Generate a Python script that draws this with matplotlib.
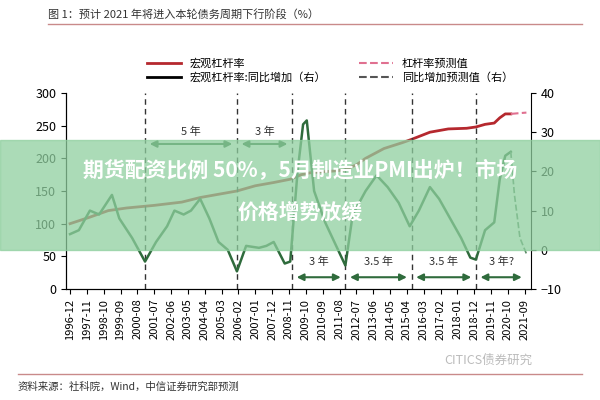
import matplotlib
matplotlib.use('Agg')
import matplotlib.pyplot as plt
from matplotlib.patches import Rectangle

plt.rcParams['font.family'] = ['Noto Sans CJK SC', 'DejaVu Sans']

# macro leverage (left axis)
lev_t = [1996.92, 1998.0, 1999.0, 2000.0, 2001.5, 2003.0, 2004.0, 2005.0, 2006.0, 2007.0, 2008.0, 2008.9,
         2009.5, 2010.0, 2011.0, 2011.8, 2012.5, 2013.0, 2014.0, 2015.0, 2015.5, 2016.5, 2017.5, 2018.5,
         2019.0, 2019.5, 2020.0, 2020.3, 2020.6, 2020.9]
lev_v = [100, 110, 120, 124, 128, 133, 140, 145, 150, 158, 163, 168,
         175, 178, 180, 182, 190, 200, 215, 224, 229, 240, 245, 246,
         248, 252, 254, 262, 268, 268]
lev_fc_t = [2020.9, 2021.3, 2021.75]
lev_fc_v = [268, 269, 270]

# yoy change (right axis)
yoy_t = [1996.92, 1997.4, 1998.0, 1998.5, 1999.2, 1999.6, 2000.3, 2001.0, 2001.6, 2002.2, 2002.6, 2003.1,
         2003.5, 2004.0, 2004.5, 2005.0, 2005.5, 2006.0, 2006.5, 2007.2, 2007.6, 2008.0, 2008.6, 2008.9,
         2009.3, 2009.6, 2009.8, 2010.2, 2010.8, 2011.3, 2011.9, 2012.3, 2013.0, 2013.6, 2014.2, 2014.8,
         2015.4, 2015.9, 2016.5, 2017.0, 2017.6, 2018.2, 2018.7, 2019.0, 2019.5, 2020.0, 2020.3, 2020.6,
         2020.9]
yoy_v = [4, 5, 10, 9, 14, 8, 3, -3, 2, 6, 10, 9,
         10, 13, 8, 2, 0, -5.5, 1, 0.5, 1, 2, -3.5, -3,
         20, 32, 33, 15, 7, 2, -4, 9, 15, 19, 16, 12,
         6, 10, 16, 13, 8, 3, -2, -2.5, 5, 7, 18, 24,
         25]
yoy_fc_t = [2020.9, 2021.1, 2021.4, 2021.75]
yoy_fc_v = [25, 14, 3, -1]

vlines = [2001.0, 2006.0, 2009.0, 2011.9, 2015.5, 2019.0]
top_spans = [(2001.0, 2006.0, '5 年'), (2006.0, 2009.0, '3 年')]
bot_spans = [(2009.0, 2011.9, '3 年'), (2011.9, 2015.5, '3.5 年'), (2015.5, 2019.0, '3.5 年'), (2019.0, 2021.75, '3 年?')]

tick_labels = []
tick_pos = []
y, m = 1996, 12
while (y, m) <= (2021, 9):
    tick_labels.append(f'{y}-{m:02d}')
    tick_pos.append(y + (m - 1) / 12)
    m += 11
    y += (m - 1) // 12
    m = (m - 1) % 12 + 1

red = '#b5282e'
green = '#2f6b3c'

fig = plt.figure(figsize=(6, 4), dpi=100)
ax = fig.add_axes([0.11, 0.2775, 0.775, 0.49])
ax2 = ax.twinx()

ax.plot(lev_t, lev_v, color=red, lw=2)
ax.plot(lev_fc_t, lev_fc_v, color='#e07090', lw=1.5, ls='--')
ax2.plot(yoy_t, yoy_v, color=green, lw=1.8)
ax2.plot(yoy_fc_t, yoy_fc_v, color='#5a8a66', lw=1.2, ls='--')

for v in vlines:
    ax.axvline(v, color='#333333', lw=1, ls=(0, (4, 3)))

for a, b, s in top_spans:
    ax2.annotate('', xy=(a + 0.1, 27), xytext=(b - 0.1, 27),
                 arrowprops=dict(arrowstyle='<|-|>', color=green, lw=1.5))
    ax2.text((a + b) / 2, 30, s, ha='center', va='center', fontsize=8, color='#333333')
for a, b, s in bot_spans:
    ax2.annotate('', xy=(a + 0.1, -7), xytext=(b - 0.1, -7),
                 arrowprops=dict(arrowstyle='<|-|>', color=green, lw=1.5))
    ax2.text((a + b) / 2, -3, s, ha='center', va='center', fontsize=8, color='#333333')

ax.set_xlim(1996.7, 2022.0)
ax.set_ylim(0, 300)
ax2.set_ylim(-10, 40)
ax.set_yticks(range(0, 301, 50))
ax2.set_yticks(range(-10, 41, 10))
ax.set_xticks(tick_pos)
ax.set_xticklabels(tick_labels, rotation=90, fontsize=8)
ax.tick_params(axis='y', labelsize=9)
ax2.tick_params(axis='y', labelsize=9)
for a in (ax, ax2):
    a.spines['top'].set_visible(False)
ax.spines['right'].set_visible(False)

fig.text(0.08, 0.955, '图 1：预计 2021 年将进入本轮债务周期下行阶段（%）', fontsize=8, color='#333333')
fig.add_artist(plt.Line2D([0.08, 0.97], [0.94, 0.94], color='#c98a8a', lw=1))
fig.add_artist(plt.Line2D([0.03, 0.97], [0.065, 0.065], color='#c98a8a', lw=1))
fig.text(0.03, 0.025, '资料来源：社科院，Wind，中信证券研究部预测', fontsize=7.5, color='#333333')
fig.text(0.74, 0.09, 'CITICS债券研究', fontsize=9, color='#bbbbbb')

# ncol=2 fills column-first
fig.legend(handles=[plt.Line2D([], [], color=red, lw=2), plt.Line2D([], [], color='black', lw=2),
                    plt.Line2D([], [], color='#e07090', lw=1.5, ls='--'), plt.Line2D([], [], color='#555555', lw=1.5, ls='--')],
           labels=['宏观杠杆率', '宏观杠杆率:同比增加（右）', '杠杆率预测值', '同比增加预测值（右）'],
           ncol=2, loc='upper center', bbox_to_anchor=(0.55, 0.88), frameon=False, fontsize=8,
           columnspacing=3, handlelength=3, labelspacing=0.3)

# overlay banner
fig.add_artist(Rectangle((0, 0.375), 1, 0.275, transform=fig.transFigure, color='#8fcf9f', alpha=0.75, zorder=10))
fig.text(0.5, 0.575, '期货配资比例 50%，5月制造业PMI出炉！市场', ha='center', va='center', fontsize=15,
         color='white', weight='bold', zorder=11)
fig.text(0.5, 0.47, '价格增势放缓', ha='center', va='center', fontsize=15, color='white', weight='bold', zorder=11)

fig.savefig('out.png')
